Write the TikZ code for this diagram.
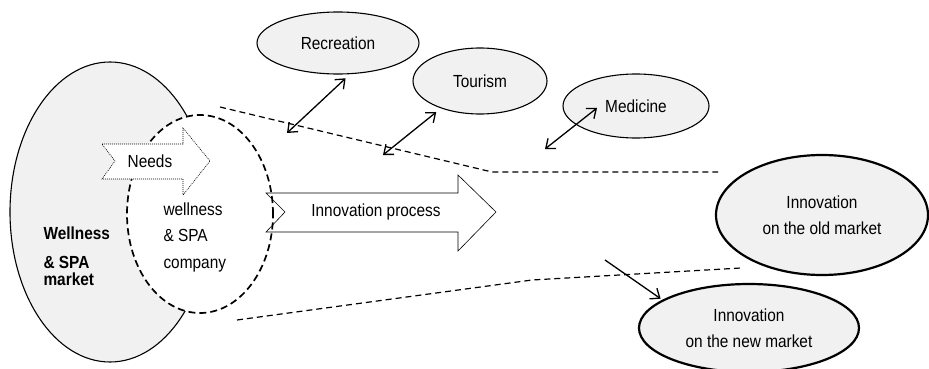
\documentclass[tikz,border=0pt]{standalone}
\usepackage{fontspec}
\setmainfont{Liberation Sans}[FakeStretch=0.88]
\usetikzlibrary{arrows.meta,calc,shapes.geometric}
\definecolor{ovalfill}{gray}{0.945}
\tikzstyle{oval} = [ellipse, draw=black, fill=ovalfill, line width=1.1pt, inner sep=0pt, align=center]
\tikzstyle{mktoval} = [oval, line width=2.2pt]
\tikzstyle{ptlabel} = [anchor=center, color=black, align=center]
\tikzstyle{border} = [dash pattern=on 6pt off 4pt, line width=1.2pt]
\tikzstyle{dbl} = [{Straight Barb[length=8pt,width=13pt]}-{Straight Barb[length=8pt,width=13pt]}, line width=1.3pt]
\tikzstyle{link} = [-{Straight Barb[length=8pt,width=13pt]}, line width=1.3pt]
\tikzstyle{blockarrow} = [draw=black, line width=0.6pt]
\tikzset{font={\fontsize{17.5}{26}\selectfont}}

\begin{document}
\begin{tikzpicture}[x=1pt, y=-1pt]
  \useasboundingbox (0,0) rectangle (929,369);

  % market and company
  \node[oval, minimum width=200pt, minimum height=300pt, at={(110,212)}] (market) {};
  \node[ellipse, draw=black, fill=white, line width=1.7pt, dash pattern=on 7pt off 4pt,
        minimum width=146pt, minimum height=198pt, at={(200,214)}] (company) {};
  \node[anchor=west, align=left, font={\fontsize{17.5}{18}\selectfont\bfseries},
        at={(40,256)}] (marketlbl) {Wellness\\[11pt]\& SPA\\[-1.5pt]market};
  \node[anchor=west, align=left, font={\fontsize{17.5}{26.5}\selectfont},
        at={(160,237)}] (companylbl) {wellness\\\& SPA\\company};

  % innovation process
  \draw[blockarrow] (266,193) -- (458,193) -- (458,175) -- (496,212) -- (458,251)
    -- (458,232) -- (266,232) -- (285,212) -- cycle;
  \node[ptlabel, at={(376,212)}] (process) {Innovation process};

  % needs
  \filldraw[blockarrow, fill=white, dash pattern=on 1pt off 1pt] (102,144) -- (183,144)
    -- (183,128) -- (210,161) -- (183,195) -- (183,179) -- (102,179) -- (115,161) -- cycle;
  \node[ptlabel, at={(150,161)}] (needs) {Needs};

  % borders of the old market
  \draw[border] (220,107) -- (492,172) -- (718,172);
  \draw[border] (237,320) -- (532,280) -- (741,268);

  % fields
  \node[oval, minimum width=162pt, minimum height=62pt, at={(338,43)}] (recreation) {Recreation};
  \node[oval, minimum width=134pt, minimum height=66pt, at={(480,81)}] (tourism) {Tourism};
  \node[oval, minimum width=146pt, minimum height=64pt, at={(636,106)}] (medicine) {Medicine};
  \coordinate (recend) at (287,133);
  \coordinate (tourend) at (383,155);
  \coordinate (medstart) at (597,108);
  \coordinate (medend) at (545,149);
  \draw[dbl, shorten <=6pt] (recreation.-69) -- (recend);
  \draw[dbl, shorten <=6pt] (tourism.215) -- (tourend);
  \draw[dbl] (medstart) -- (medend);

  % results
  \node[mktoval, minimum width=212pt, minimum height=120pt, at={(822,215)}] (oldmarket)
    {Innovation\\on the old market};
  \node[mktoval, minimum width=220pt, minimum height=88pt, at={(749,328)}] (newmarket)
    {Innovation\\on the new market};
  \coordinate (newstart) at (605,260);
  \draw[link, shorten >=2pt] (newstart) -- (newmarket.162);

\end{tikzpicture}
\end{document}
